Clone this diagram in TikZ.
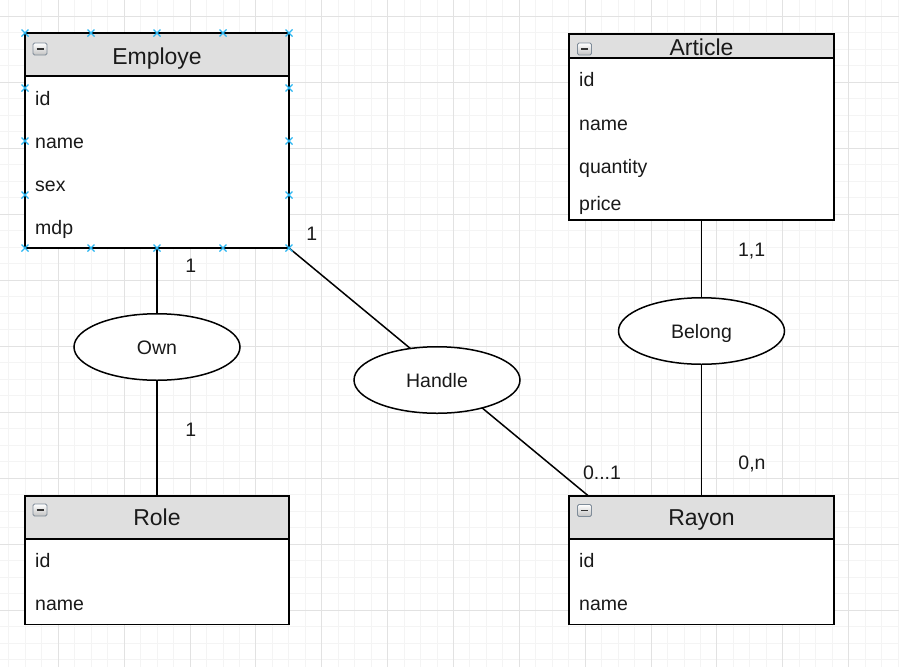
\documentclass[tikz,border=0pt]{standalone}
\usepackage{fontspec}
\setmainfont{Liberation Sans}
\usetikzlibrary{shapes.geometric}
\pgfdeclarelayer{gridlayer}
\pgfdeclarelayer{edgelayer}
\pgfsetlayers{gridlayer,edgelayer,main}
\definecolor{gridmajor}{HTML}{E2E2E2}
\definecolor{gridminor}{HTML}{F4F4F4}
\definecolor{hdrgray}{HTML}{DFDFDF}
\definecolor{selblue}{HTML}{29B6F2}
\definecolor{txt}{HTML}{1A1A1A}
\definecolor{iconedge}{HTML}{7F8C99}
\tikzset{
  entbox/.style={draw, line width=1.5pt, fill=white, anchor=north west, inner sep=0pt, outer sep=0pt},
  hdrbox/.style={entbox, fill=hdrgray},
  ttl/.style={font=\fontsize{23}{27}\selectfont, text=txt, anchor=base, inner sep=0pt},
  attr/.style={font=\fontsize{19.5}{23}\selectfont, text=txt, anchor=base west, inner sep=0pt},
  rel/.style={ellipse, draw, line width=1.5pt, fill=white, minimum width=166pt, minimum height=66.5pt,
    inner sep=0pt, font=\fontsize{19.5}{23}\selectfont, text=txt, text height=14pt, text depth=0pt},
  card/.style={font=\fontsize{19.5}{23}\selectfont, text=txt, anchor=base, inner sep=0pt},
  conn/.style={line width=1.5pt},
  selx/.style={draw=selblue, line width=1.2pt},
  iconbox/.style={draw=iconedge, line width=0.8pt, rounded corners=1.5pt, top color=white, bottom color=hdrgray!70!gray},
}
\newcommand\cicon[2]{%
  \draw[iconbox] (#1,#2) rectangle ++(14,12);
  \draw[line width=1.6pt, draw=black!80] (#1+3.5,#2+6) -- ++(7,0);}
\newcommand\selcross[2]{%
  \draw[selx] (#1-3.5,#2-3.5) -- (#1+3.5,#2+3.5) (#1-3.5,#2+3.5) -- (#1+3.5,#2-3.5);}
\begin{document}
\begin{tikzpicture}[x=1pt, y=-1pt]
\useasboundingbox (0,0) rectangle (899,667);
% grid
\begin{pgfonlayer}{gridlayer}
\fill[white] (0,0) rectangle (899,667);
\foreach \k in {-3,...,51} {\pgfmathsetmacro\gx{58.3+\k*16.465}\draw[gridminor, line width=0.9pt] (\gx,0) -- (\gx,667);}
\foreach \k in {0,...,40} {\pgfmathsetmacro\gy{16+\k*16.51}\draw[gridminor, line width=0.9pt] (0,\gy) -- (899,\gy);}
\foreach \k in {0,...,13} {\pgfmathsetmacro\gx{58.3+\k*65.86}\draw[gridmajor, line width=0.9pt] (\gx,0) -- (\gx,667);}
\foreach \k in {0,...,10} {\pgfmathsetmacro\gy{16+\k*66.04}\draw[gridmajor, line width=0.9pt] (0,\gy) -- (899,\gy);}
\end{pgfonlayer}

% Employe
\node[entbox, minimum width=264pt, minimum height=215pt] (emp) at (25,33) {};
\node[hdrbox, minimum width=264pt, minimum height=43pt] (emph) at (25,33) {};
\node[ttl] (empt) at (157,64) {Employe};
\node[attr] (emp1) at (35,105) {id};
\node[attr] (emp2) at (35,148) {name};
\node[attr] (emp3) at (35,191) {sex};
\node[attr] (emp4) at (35,234) {mdp};
\cicon{33}{43}

% Article
\node[entbox, minimum width=265pt, minimum height=186pt] (art) at (569,34) {};
\node[hdrbox, minimum width=265pt, minimum height=24pt] (arth) at (569,34) {};
\node[ttl] (artt) at (701.5,55) {Article};
\node[attr] (art1) at (579,86.7) {id};
\node[attr] (art2) at (579,130) {name};
\node[attr] (art3) at (579,173.3) {quantity};
\node[attr] (art4) at (579,210.7) {price};
\cicon{577.5}{43}

% Role
\node[entbox, minimum width=264pt, minimum height=128.5pt] (role) at (25,496) {};
\node[hdrbox, minimum width=264pt, minimum height=43pt] (roleh) at (25,496) {};
\node[ttl] (rolet) at (157,525.7) {Role};
\node[attr] (role1) at (35,567.7) {id};
\node[attr] (role2) at (35,610.7) {name};
\cicon{33}{504}

% Rayon
\node[entbox, minimum width=265pt, minimum height=128.5pt] (ray) at (569,496) {};
\node[hdrbox, minimum width=265pt, minimum height=43pt] (rayh) at (569,496) {};
\node[ttl] (rayt) at (701.5,525.7) {Rayon};
\node[attr] (ray1) at (579,567.7) {id};
\node[attr] (ray2) at (579,610.7) {name};
\cicon{577.5}{504.5}

% relationships
\node[rel] (own) at (157,347) {Own};
\node[rel] (handle) at (437,380) {Handle};
\node[rel] (belong) at (701.5,331) {Belong};

% connectors
\coordinate (rayin) at (588.5,496);
\begin{pgfonlayer}{edgelayer}
\draw[conn] (emp.south) -- (own.north);
\draw[conn] (own.south) -- (role.north);
\draw[conn] (emp.south east) -- (rayin);
\draw[conn] (art.south) -- (belong.north);
\draw[conn] (belong.south) -- (belong.south |- ray.north);
\end{pgfonlayer}

% cardinalities
\node[card] (c1) at (190.7,272) {1};
\node[card] (c2) at (190.7,436.7) {1};
\node[card] (c3) at (311.7,240.7) {1};
\node[card] (c4) at (602,479.3) {0...1};
\node[card] (c5) at (751.7,256) {1,1};
\node[card] (c6) at (752,469.3) {0,n};

% selection markers
\foreach \sx in {25,91,157,223,289} {\selcross{\sx}{33}\selcross{\sx}{248}}
\foreach \sy in {88,141,195} {\selcross{25}{\sy}\selcross{289}{\sy}}
\end{tikzpicture}
\end{document}
